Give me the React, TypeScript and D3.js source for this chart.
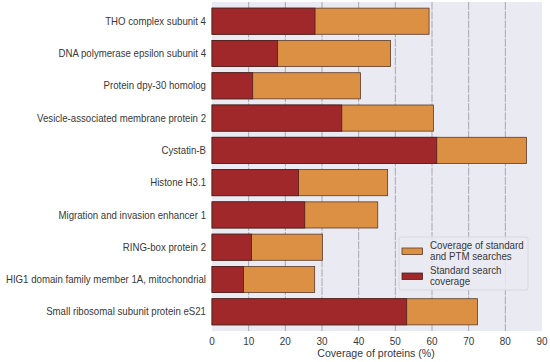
import React from "react";
import * as d3 from "d3";

const categories = [
  "THO complex subunit 4",
  "DNA polymerase epsilon subunit 4",
  "Protein dpy-30 homolog",
  "Vesicle-associated membrane protein 2",
  "Cystatin-B",
  "Histone H3.1",
  "Migration and invasion enhancer 1",
  "RING-box protein 2",
  "HIG1 domain family member 1A, mitochondrial",
  "Small ribosomal subunit protein eS21",
];
const combinedCoverage = [59.2, 48.7, 40.5, 60.4, 85.8, 47.9, 45.2, 30.1, 28.0, 72.4];
const standardCoverage = [28.1, 17.9, 11.1, 35.4, 61.3, 23.6, 25.3, 10.8, 8.6, 53.1];
const xTicks = [0, 10, 20, 30, 40, 50, 60, 70, 80, 90];

const W = 550, H = 362;
const L = 212, R = 542, T = 2, B = 331;
const RED = "#a1282a";
const ORANGE = "#dc9044";
const TXT = "#383838";
const FONT = "Liberation Sans, Arial, sans-serif";
const SX = 0.92;

function T2({ x, y, size, anchor, children }: { x: number; y: number; size: number; anchor?: string; children: React.ReactNode }) {
  return (
    <g transform={`translate(${x},${y}) scale(${SX},1)`}>
      <text x={0} y={0} textAnchor={anchor || "start"} fontSize={size} fill={TXT}>{children}</text>
    </g>
  );
}

export default function App() {
  const x = d3.scaleLinear().domain([0, 90]).range([L, R]);
  const y = d3.scaleBand<string>().domain(categories).range([T, B]).padding(0.19);
  return (
    <svg width={W} height={H} style={{ position: "absolute", left: 0, top: 0, fontFamily: FONT }}>
      <rect x={0} y={0} width={W} height={H} fill="#fff" />
      <rect x={L} y={T} width={R - L} height={B - T} fill="#eaeaf2" />
      {xTicks.slice(1, -1).map((t) => (
        <line key={t} x1={x(t)} x2={x(t)} y1={T} y2={B} stroke="#a8a8b0" strokeWidth={1} strokeDasharray="8,1.2" />
      ))}
      {categories.map((c, i) => (
        <g key={c}>
          <rect x={x(0)} y={y(c)!} width={x(combinedCoverage[i]) - x(0)} height={y.bandwidth()} fill={ORANGE} stroke="#5a3a2a" strokeWidth={0.8} />
          <rect x={x(0)} y={y(c)!} width={x(standardCoverage[i]) - x(0)} height={y.bandwidth()} fill={RED} stroke="#4a2020" strokeWidth={0.8} />
          <T2 x={L - 6} y={y(c)! + y.bandwidth() / 2 + 3.7} size={10.5} anchor="end">{c}</T2>
        </g>
      ))}
      {xTicks.map((t) => (
        <T2 key={t} x={x(t)} y={345} size={10.8} anchor="middle">{t}</T2>
      ))}
      <T2 x={(L + R) / 2 - 1} y={357} size={11.5} anchor="middle">Coverage of proteins (%)</T2>
      <g>
        <rect x={399} y={237} width={129} height={53} rx={2} fill="#eaeaf2" fillOpacity={0.85} stroke="#d8d8e0" strokeWidth={1} />
        <rect x={402} y={248} width={20.5} height={6.5} fill={ORANGE} stroke="#5a3a2a" strokeWidth={0.8} />
        <rect x={402} y={273} width={20.5} height={6.5} fill={RED} stroke="#4a2020" strokeWidth={0.8} />
        <T2 x={430} y={249} size={10.6}>Coverage of standard</T2>
        <T2 x={430} y={259.5} size={10.6}>and PTM searches</T2>
        <T2 x={430} y={274} size={10.6}>Standard search</T2>
        <T2 x={430} y={284.5} size={10.6}>coverage</T2>
      </g>
    </svg>
  );
}
